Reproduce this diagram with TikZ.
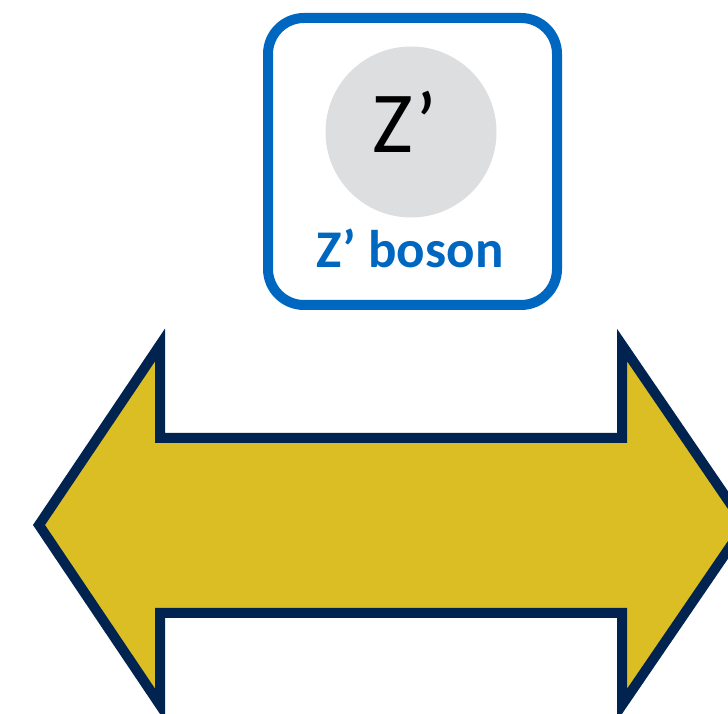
\documentclass[tikz,border=0pt]{standalone}
\usepackage{fontspec}
\setmainfont{Carlito}
\definecolor{boxblue}{HTML}{0067C0}
\definecolor{circgray}{HTML}{DDDEE0}
\definecolor{navy}{HTML}{00234F}
\definecolor{arrowfill}{HTML}{DBBE24}
\tikzset{
  framebox/.style={draw=boxblue, line width=10pt, rounded corners=36pt, minimum width=289pt, minimum height=287pt, inner sep=0pt},
  particle/.style={circle, fill=circgray, minimum size=171pt, inner sep=0pt},
  bigarrow/.style={draw=navy, fill=arrowfill, line width=10pt, line join=miter, miter limit=10}
}
\begin{document}
\begin{tikzpicture}[x=1pt,y=1pt]
\useasboundingbox (0,0) rectangle (728,714);
\clip (0,0) rectangle (728,714);
% box
\node[framebox] (box) at (412.5,552.5) {};
\node[particle] (zp) at (411,582) {};
\node[font=\fontsize{87}{90}\selectfont, anchor=base] (zlabel) at (405,561) {Z’};
\node[font=\bfseries\fontsize{53}{56}\selectfont, text=boxblue, anchor=base] (name) at (410,446) {Z’ boson};
% shadow
\fill[black, opacity=0.10] (41,187) -- (162,367) -- (162,274) -- (624,274) -- (624,367) -- (747,187) -- (624,7) -- (624,99) -- (162,99) -- (162,7) -- cycle;
% double arrow
\draw[bigarrow] (39,189) -- (160,369) -- (160,276) -- (622,276) -- (622,369) -- (745,189) -- (622,9) -- (622,101) -- (160,101) -- (160,9) -- cycle;
\end{tikzpicture}
\end{document}
